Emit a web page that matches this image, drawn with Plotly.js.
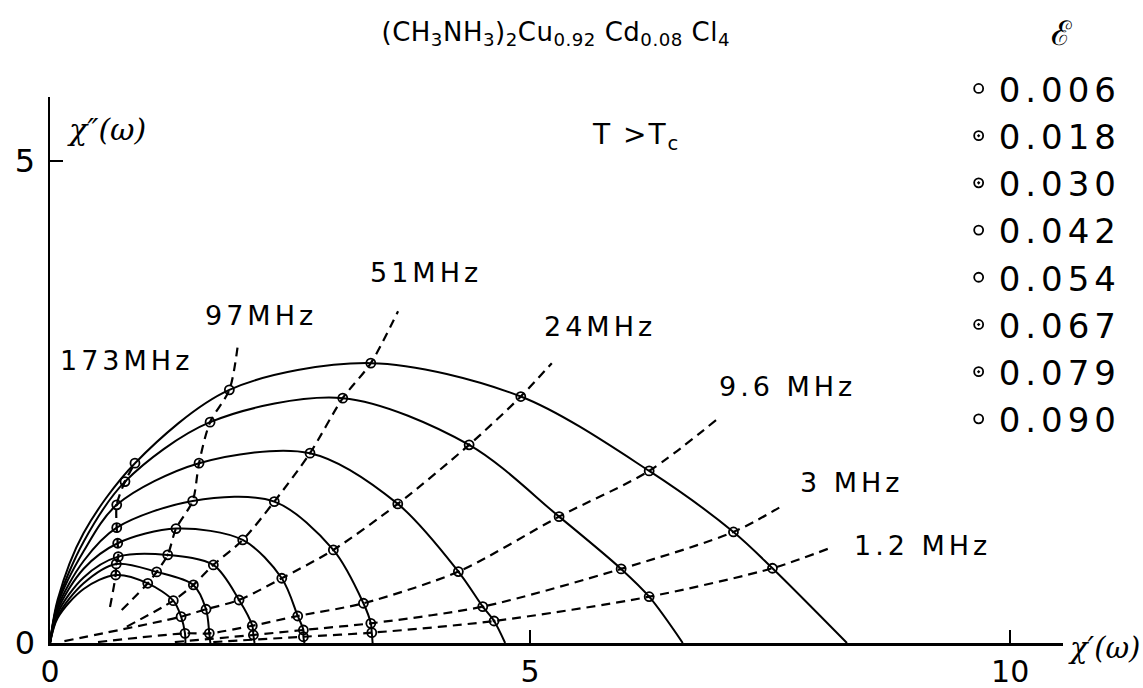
<!DOCTYPE html>
<html>
<head>
<meta charset="utf-8">
<script src="https://cdn.plot.ly/plotly-3.0.1.min.js"></script>
<style>
  html, body { margin: 0; padding: 0; background: #fff; }
  #chart { width: 1143px; height: 688px; }
  .annotation text { letter-spacing: 4px; }
  .annotation[data-index="7"] text { letter-spacing: 0.5px; }
  .annotation[data-index="8"] text { letter-spacing: 0px; }
  .annotation[data-index="9"] text { letter-spacing: 2px; }
  .annotation[data-index="10"] text, .annotation[data-index="11"] text { letter-spacing: 0px; }
  text.legendtext { letter-spacing: 5px; }
</style>
</head>
<body>
<div id="chart"></div>
<script>
// ---- labels ----
const epsLabels = ['0.006', '0.018', '0.030', '0.042', '0.054', '0.067', '0.079', '0.090'];
const freqLabels = ['173MHz', '97MHz', '51MHz', '24MHz', '9.6 MHz', '3 MHz', '1.2 MHz'];
const xTickVals = [0, 5, 10];
const xTickText = ['0', '5', '10'];
const yTickVals = [0, 5];
const yTickText = ['0', '5'];

// ---- each eps curve: chi' and chi'' at 173, 97, 51, 24, 9.6, 3, 1.2 MHz ----
const eps006_x = [0.885, 1.868, 3.341, 4.903, 6.240, 7.118, 7.524];
const eps006_y = [1.864, 2.624, 2.901, 2.555, 1.784, 1.151, 0.775];
const eps018_x = [0.781, 1.667, 3.049, 4.365, 5.302, 5.948, 6.240];
const eps018_y = [1.673, 2.289, 2.538, 2.054, 1.310, 0.768, 0.480];
const eps030_x = [0.695, 1.552, 2.708, 3.622, 4.253, 4.507, 4.625];
const eps030_y = [1.432, 1.864, 1.968, 1.442, 0.740, 0.377, 0.228];
const eps042_x = [0.695, 1.486, 2.336, 2.951, 3.264, 3.341, 3.351];
const eps042_y = [1.196, 1.473, 1.466, 0.965, 0.412, 0.204, 0.107];
const eps054_x = [0.705, 1.312, 2.007, 2.414, 2.580, 2.639, 2.639];
const eps054_y = [1.034, 1.186, 1.068, 0.671, 0.280, 0.135, 0.065];
const eps067_x = [0.711, 1.226, 1.701, 1.969, 2.107, 2.118, null];
const eps067_y = [0.895, 0.913, 0.809, 0.446, 0.179, 0.083, null];
const eps079_x = [0.690, 1.111, 1.493, 1.625, 1.659, null, null];
const eps079_y = [0.820, 0.737, 0.602, 0.350, 0.100, null, null];
const eps090_x = [0.684, 1.018, 1.284, 1.365, 1.406, null, null];
const eps090_y = [0.705, 0.619, 0.439, 0.273, 0.100, null, null];

// rising part of each curve near the origin (read at chi' = 0.08 and 0.35)
const riseX = [0.08, 0.35];
const rise006_y = [0.45, 1.14];
const rise018_y = [0.42, 1.05];
const rise030_y = [0.40, 0.95];
const rise042_y = [0.37, 0.85];
const rise054_y = [0.34, 0.77];
const rise067_y = [0.31, 0.68];
const rise079_y = [0.28, 0.62];
const rise090_y = [0.26, 0.56];

// chi' where each curve meets the axis (chi'' = 0)
const curveEnd = [8.30, 6.59, 4.74, 3.36, 2.65, 2.13, 1.67, 1.41];

// free ends of the constant-frequency lines
const freqLow_x  = [0.625, 0.747, 0.80, 0.15, 0.50, 1.30, 1.70];
const freqLow_y  = [0.373, 0.342, 0.17, 0.02, 0.01, 0.01, 0.01];
const freqHigh_x = [null, 1.961, 3.625, 5.226, 6.96, 7.64, 8.125];
const freqHigh_y = [null, 3.126, 3.44, 2.901, 2.33, 1.43, 0.985];

// label anchor points for the frequency lines
const freqLab_x = [0.083, 1.594, 3.312, 5.125, 6.948, 7.79, 8.354];
const freqLab_y = [2.925, 3.392, 3.838, 3.278, 2.656, 1.66, 1.006];

const curvesX = [eps006_x, eps018_x, eps030_x, eps042_x, eps054_x, eps067_x, eps079_x, eps090_x];
const curvesY = [eps006_y, eps018_y, eps030_y, eps042_y, eps054_y, eps067_y, eps079_y, eps090_y];
const riseY = [rise006_y, rise018_y, rise030_y, rise042_y, rise054_y, rise067_y, rise079_y, rise090_y];
const markerSymbols = ['circle-open', 'circle-open-dot', 'circle-open-dot', 'circle-open',
                       'circle-open', 'circle-open-dot', 'circle-open-dot', 'circle-open'];

const FONT = 'DejaVu Sans, Liberation Sans, sans-serif';
const LABEL_SPACING = 4; // px, matches the CSS letter-spacing on the labels
const traces = [];

// solid curves
curvesX.forEach((cx, k) => {
  const xs = [0].concat(riseX), ys = [0].concat(riseY[k]);
  cx.forEach((v, i) => { if (v !== null) { xs.push(v); ys.push(curvesY[k][i]); } });
  xs.push(curveEnd[k]); ys.push(0);
  traces.push({
    x: xs, y: ys, type: 'scatter', mode: 'lines',
    line: { color: '#000', width: 2, shape: 'spline', smoothing: 0.9 },
    showlegend: false, hoverinfo: 'skip'
  });
});

// dashed constant-frequency lines
freqLabels.forEach((f, i) => {
  const xs = [freqLow_x[i]], ys = [freqLow_y[i]];
  for (let k = curvesX.length - 1; k >= 0; k--) {
    if (curvesX[k][i] !== null) { xs.push(curvesX[k][i]); ys.push(curvesY[k][i]); }
  }
  if (freqHigh_x[i] !== null) { xs.push(freqHigh_x[i]); ys.push(freqHigh_y[i]); }
  traces.push({
    x: xs, y: ys, type: 'scatter', mode: 'lines', name: f,
    line: { color: '#000', width: 2.2, dash: '9px,6px', shape: 'spline', smoothing: 0.8 },
    showlegend: false, hoverinfo: 'skip'
  });
});

// measured points (legend entries)
curvesX.forEach((cx, k) => {
  traces.push({
    x: cx, y: curvesY[k], type: 'scatter', mode: 'markers', name: epsLabels[k],
    marker: { symbol: markerSymbols[k], size: 9, color: '#000', line: { color: '#000', width: 1.8 } },
    cliponaxis: false
  });
});

const annotations = [];
freqLabels.forEach((f, i) => {
  annotations.push({
    x: freqLab_x[i], y: freqLab_y[i], xref: 'x', yref: 'y', text: f,
    showarrow: false, xanchor: 'left', yanchor: 'middle',
    xshift: f.length * LABEL_SPACING / 2,
    font: { family: FONT, size: 27, color: '#000' }
  });
});
annotations.push(
  { x: 0.4995, y: 1.117, xref: 'paper', yref: 'paper',
    text: '(CH<sub>3</sub>NH<sub>3</sub>)<sub>2</sub>Cu<sub>0.92</sub> Cd<sub>0.08</sub> Cl<sub>4</sub>',
    showarrow: false, xanchor: 'center', yanchor: 'middle',
    font: { family: FONT, size: 26, color: '#000' } },
  { x: 0.999, y: 1.117, xref: 'paper', yref: 'paper', text: 'ℰ',
    showarrow: false, xanchor: 'center', yanchor: 'middle',
    font: { family: 'DejaVu Serif, serif', size: 34, color: '#000' } },
  { x: 5.625, y: 5.25, xref: 'x', yref: 'y', text: 'T &gt;T<sub>c</sub>',
    showarrow: false, xanchor: 'left', yanchor: 'middle', xshift: 5,
    font: { family: FONT, size: 28, color: '#000' } },
  { x: 0.156, y: 5.32, xref: 'x', yref: 'y', text: '<i>χ″(ω)</i>',
    showarrow: false, xanchor: 'left', yanchor: 'middle',
    font: { family: 'DejaVu Serif, serif', size: 30, color: '#000' } },
  { x: 1.003, y: -0.009, xref: 'paper', yref: 'paper', text: '<i>χ′(ω)</i>',
    showarrow: false, xanchor: 'left', yanchor: 'middle',
    font: { family: 'DejaVu Serif, serif', size: 29, color: '#000' } }
);

const layout = {
  width: 1143, height: 688,
  margin: { l: 50, r: 80, t: 97, b: 45, pad: 0 },
  paper_bgcolor: '#fff', plot_bgcolor: '#fff',
  showlegend: true,
  legend: {
    x: 0.897, y: 1.068, xanchor: 'left', yanchor: 'top', maxheight: 640,
    font: { family: FONT, size: 34, color: '#000' },
    bgcolor: 'rgba(0,0,0,0)', borderwidth: 0, tracegroupgap: 0
  },
  xaxis: {
    range: [0, 10.55], showgrid: false, zeroline: false,
    showline: true, linecolor: '#000', linewidth: 2.5,
    ticks: 'inside', ticklen: 13, tickwidth: 2, tickcolor: '#000',
    tickvals: xTickVals, ticktext: xTickText, ticklabelstandoff: 0,
    tickfont: { family: FONT, size: 30, color: '#000' }
  },
  yaxis: {
    range: [0, 5.66], showgrid: false, zeroline: false,
    showline: true, linecolor: '#000', linewidth: 2.5,
    ticks: 'inside', ticklen: 13, tickwidth: 2, tickcolor: '#000',
    tickvals: yTickVals, ticktext: yTickText, ticklabelstandoff: 6,
    tickfont: { family: FONT, size: 32, color: '#000' }
  },
  annotations: annotations
};

Plotly.newPlot('chart', traces, layout, { staticPlot: true, displayModeBar: false });
</script>
</body>
</html>
